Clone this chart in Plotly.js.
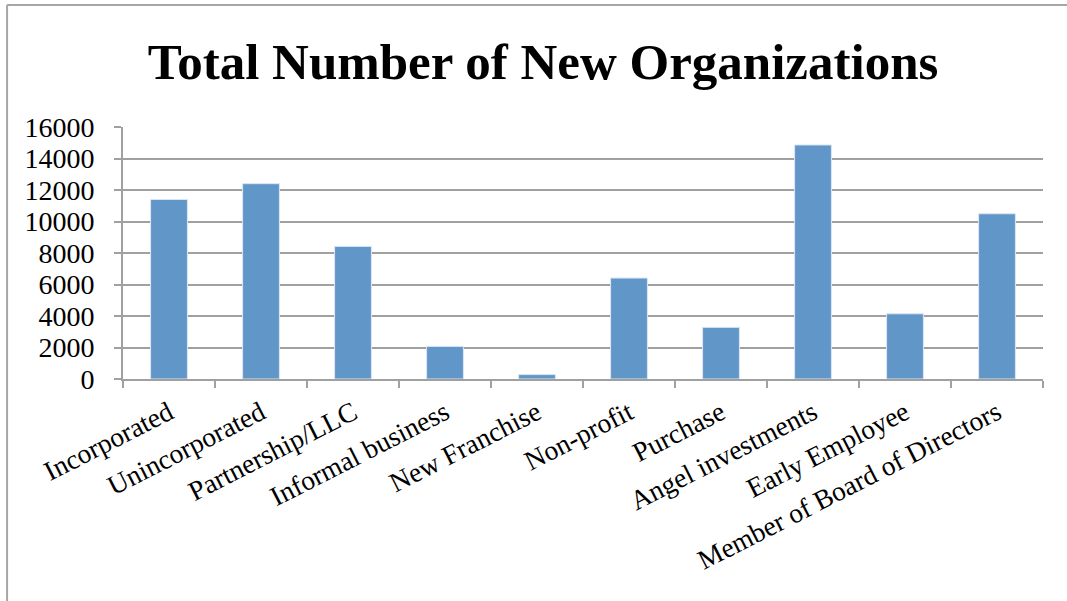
<!DOCTYPE html>
<html>
<head>
<meta charset="utf-8">
<script src="https://cdn.plot.ly/plotly-3.0.1.min.js"></script>
<style>html,body{margin:0;padding:0;background:#fff;}#chart{width:1067px;height:601px;}</style>
</head>
<body>
<div id="chart"></div>
<script>
const categories = ["Incorporated", "Unincorporated", "Partnership/LLC", "Informal business", "New Franchise", "Non-profit", "Purchase", "Angel investments", "Early Employee", "Member of Board of Directors"];
const values = [11400, 12400, 8420, 2070, 280, 6410, 3280, 14860, 4140, 10490];
const yTicks = [0, 2000, 4000, 6000, 8000, 10000, 12000, 14000, 16000];
const chartTitle = "Total Number of New Organizations";

const serif = "'Liberation Serif', 'Times New Roman', serif";
const gridColor = "#a0a0a0";

const trace = {
  type: "bar",
  x: categories,
  y: values,
  marker: {color: "#6196c9", line: {color: "#dbe6f2", width: 1}},
  hoverinfo: "x+y"
};

const layout = {
  width: 1067,
  height: 601,
  margin: {l: 123, r: 24, t: 127, b: 222},
  paper_bgcolor: "#ffffff",
  plot_bgcolor: "#ffffff",
  showlegend: false,
  bargap: 0.6,
  font: {family: serif, color: "#000000", size: 28},
  title: {
    text: "<b>" + chartTitle + "</b>",
    font: {family: serif, size: 51, color: "#000000"},
    x: 0.509, xref: "container", xanchor: "center",
    y: 0.898, yref: "container", yanchor: "middle"
  },
  xaxis: {
    type: "category",
    tickangle: -27,
    tickson: "boundaries",
    ticks: "outside",
    ticklen: 7,
    tickwidth: 2,
    tickcolor: gridColor,
    showline: true,
    linecolor: gridColor,
    linewidth: 2,
    showgrid: false,
    ticklabelstandoff: 5,
    tickfont: {family: serif, size: 27.5, color: "#000"},
    fixedrange: true
  },
  yaxis: {
    range: [0, 16000],
    tickvals: yTicks,
    ticktext: yTicks.map(String),
    ticks: "outside",
    ticklen: 7,
    tickwidth: 2,
    tickcolor: gridColor,
    showline: true,
    linecolor: gridColor,
    linewidth: 2,
    showgrid: true,
    gridcolor: gridColor,
    gridwidth: 2,
    zeroline: false,
    ticklabelstandoff: 14,
    tickfont: {family: serif, size: 28, color: "#000"},
    fixedrange: true
  },
  shapes: [
    {type: "line", xref: "paper", yref: "paper", x0: -0.126, x1: 1.1, y0: 1.484, y1: 1.484, line: {color: "#a6a6a6", width: 2}},
    {type: "line", xref: "paper", yref: "paper", x0: -0.126, x1: -0.126, y0: 1.484, y1: -0.9, line: {color: "#a6a6a6", width: 2}}
  ]
};

Plotly.newPlot("chart", [trace], layout, {displayModeBar: false, staticPlot: true});
</script>
</body>
</html>
